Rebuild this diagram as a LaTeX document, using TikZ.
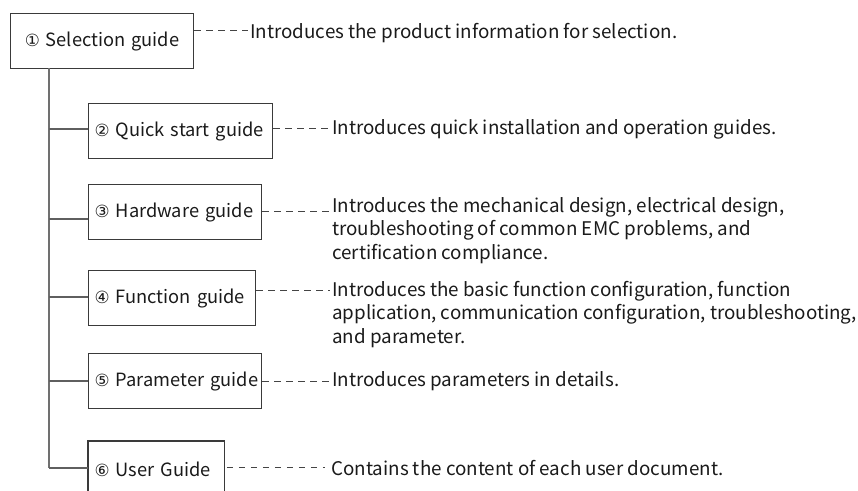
\documentclass[tikz,border=0pt]{standalone}
\usepackage{fontspec}
\setmainfont{Noto Sans CJK SC}
\newfontfamily\circfont{DejaVu Sans}
\definecolor{txt}{HTML}{1A1A1A}
\definecolor{boxc}{HTML}{3A3A3A}
\definecolor{trunkc}{HTML}{707070}
\definecolor{dashc}{HTML}{444444}
\newcommand{\cnum}[1]{{\circfont\fontsize{12.6pt}{12.6pt}\selectfont #1}}
\begin{document}
\begin{tikzpicture}[x=0.75pt,y=-0.75pt,
  every node/.style={text=txt,font=\fontsize{14.1pt}{17.6pt}\selectfont},
  guidebox/.style={draw=boxc,line width=0.9pt,inner ysep=0pt,inner xsep=4.5pt,align=left,anchor=north west,font=\fontsize{13.7pt}{17pt}\selectfont},
  desc/.style={inner sep=0pt,align=left},
  leader/.style={draw=dashc,line width=0.6pt,dash pattern=on 4.8pt off 4.2pt},
  trunk/.style={draw=trunkc,line width=1.5pt},
  branch/.style={draw=trunkc!85!black,line width=1.1pt}]
\useasboundingbox (0,0) rectangle (858,491);
% boxes
\node[guidebox,minimum width=183*0.75pt,minimum height=55*0.75pt,text width=183*0.75pt-9pt,align=center] (b1) at (10,13) {\mbox{\cnum{①} Selection guide}};
\node[guidebox,minimum width=184*0.75pt,minimum height=55*0.75pt,text width=184*0.75pt-9pt] (b2) at (88,103) {\mbox{\cnum{②} Quick start guide}};
\node[guidebox,minimum width=173*0.75pt,minimum height=55*0.75pt,text width=173*0.75pt-9pt] (b3) at (88,184) {\mbox{\cnum{③} Hardware guide}};
\node[guidebox,minimum width=167*0.75pt,minimum height=55*0.75pt,text width=167*0.75pt-9pt] (b4) at (88,270) {\mbox{\cnum{④} Function guide}};
\node[guidebox,minimum width=173*0.75pt,minimum height=55*0.75pt,text width=173*0.75pt-9pt] (b5) at (88,353) {\mbox{\cnum{⑤} Parameter guide}};
\node[guidebox,draw=none,minimum width=135*0.75pt,minimum height=55*0.75pt,text width=135*0.75pt-9pt] (b6) at (88,441) {\mbox{\cnum{⑥} User Guide}};
\draw[draw=boxc,line width=0.9pt] (b6.south west) -- (b6.north west) -- (b6.north east) -- (b6.south east);
% descriptions
\node[desc,anchor=west] (d1) at (250,33) {Introduces the product information for selection.};
\node[desc,anchor=west] (d2) at (332,129) {Introduces quick installation and operation guides.};
\node[desc,anchor=north west] (d3) at (332,197) {Introduces the mechanical design, electrical design,\\troubleshooting of common EMC problems, and\\certification compliance.};
\node[desc,anchor=north west] (d4) at (332,281) {Introduces the basic function configuration, function\\application, communication configuration, troubleshooting,\\and parameter.};
\node[desc,anchor=west] (d5) at (332,381) {Introduces parameters in details.};
\node[desc,anchor=west] (d6) at (331,468) {Contains the content of each user document.};
% leader end points
\coordinate (e1) at (248,30);
\coordinate (e2) at (330,128);
\coordinate (e3) at (330,211);
\coordinate (e4) at (330,290);
\coordinate (e5) at (330,381);
\coordinate (e6) at (325,467);
\draw[leader] (b1.east |- e1) -- (e1);
\draw[leader] (b2.east |- e2) -- (e2);
\draw[leader] (b3.east |- e3) -- (e3);
\draw[leader] (b4.east |- e4) -- (e4);
\draw[leader] (b5.east |- e5) -- (e5);
\draw[leader] ([xshift=2pt]b6.east |- e6) -- (e6);
% tree
\coordinate (t0) at (49,68);
\coordinate (t6) at (49,468);
\draw[trunk] (t0) -- (t6);
\draw[branch] (t0 |- 0,129) -- (b2.west |- 0,129);
\draw[branch] (t0 |- 0,219) -- (b3.west |- 0,219);
\draw[branch] (t0 |- 0,297) -- (b4.west |- 0,297);
\draw[branch] (t0 |- 0,381) -- (b5.west |- 0,381);
\draw[branch] (t6) -- (b6.west |- t6);
\end{tikzpicture}
\end{document}
